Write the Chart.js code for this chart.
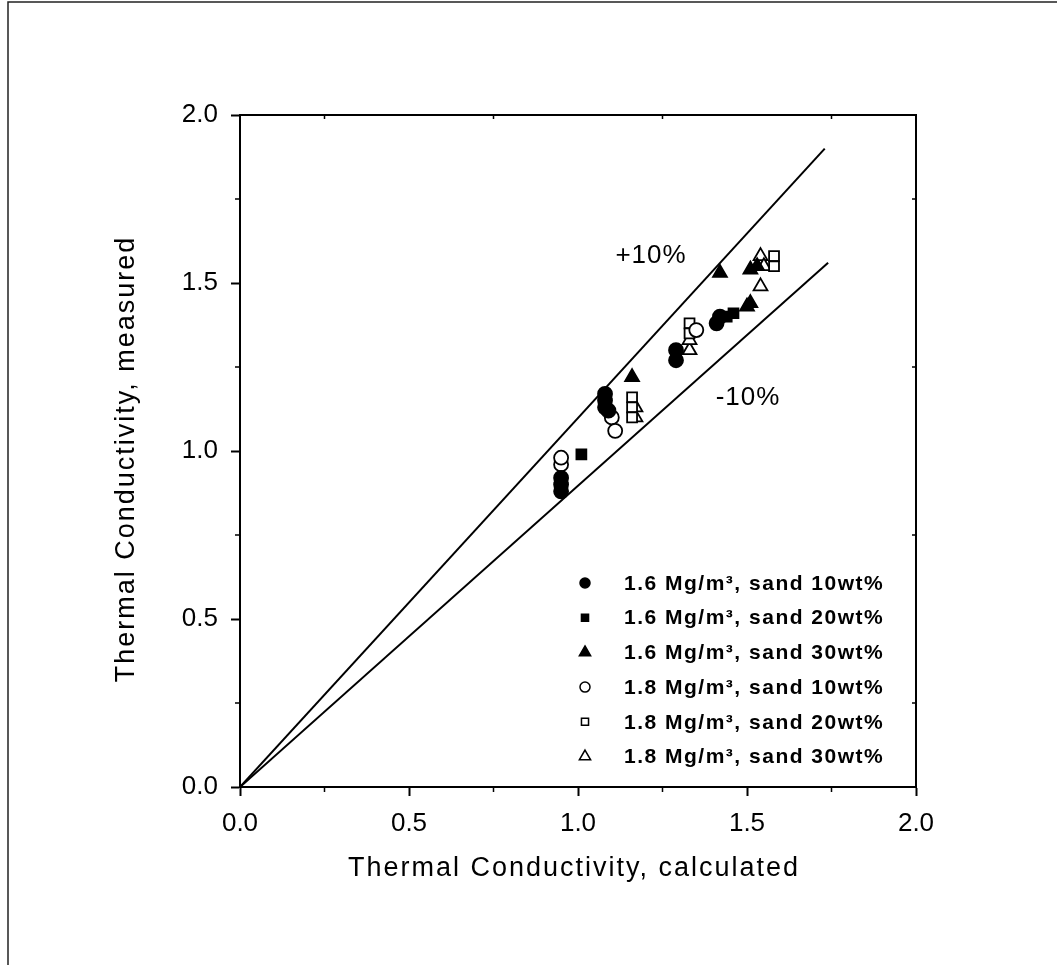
<!DOCTYPE html>
<html>
<head>
<meta charset="utf-8">
<script src="https://cdn.jsdelivr.net/npm/chart.js@4.4.0/dist/chart.umd.min.js"></script>
<style>
  html, body { margin: 0; padding: 0; background: #fff; }
  #wrap { width: 1057px; height: 965px; }
</style>
</head>
<body>
<div id="wrap"><canvas id="chart" width="1057" height="965"></canvas></div>
<script>
// values
const seriesLabels = [
    '1.6 Mg/m\u00B3, sand 10wt%',
    '1.6 Mg/m\u00B3, sand 20wt%',
    '1.6 Mg/m\u00B3, sand 30wt%',
    '1.8 Mg/m\u00B3, sand 10wt%',
    '1.8 Mg/m\u00B3, sand 20wt%',
    '1.8 Mg/m\u00B3, sand 30wt%'
];

const calc16_10 = [0.95, 0.95, 0.95, 1.08, 1.08, 1.08, 1.09, 1.29, 1.29, 1.41, 1.42];
const meas16_10 = [0.88, 0.90, 0.92, 1.17, 1.15, 1.13, 1.12, 1.27, 1.30, 1.38, 1.40];

const calc16_20 = [1.01, 1.44, 1.46];
const meas16_20 = [0.99, 1.40, 1.41];

const calc16_30 = [1.16, 1.42, 1.50, 1.51, 1.51, 1.53];
const meas16_30 = [1.22, 1.53, 1.43, 1.44, 1.54, 1.55];

const calc18_10 = [0.95, 0.95, 1.10, 1.11, 1.35];
const meas18_10 = [0.96, 0.98, 1.10, 1.06, 1.36];

const calc18_20 = [1.16, 1.16, 1.16, 1.33, 1.33, 1.58, 1.58];
const meas18_20 = [1.16, 1.13, 1.10, 1.38, 1.35, 1.58, 1.55];

const calc18_30 = [1.17, 1.17, 1.33, 1.33, 1.54, 1.55, 1.54];
const meas18_30 = [1.13, 1.10, 1.30, 1.33, 1.58, 1.55, 1.49];

// +10% / -10% bounds (end points)
const plusLineX = [0, 1.73];
const plusLineY = [0, 1.90];
const minusLineX = [0, 1.74];
const minusLineY = [0, 1.56];

const xTicks = [0, 0.5, 1.0, 1.5, 2.0];
const yTicks = [0, 0.5, 1.0, 1.5, 2.0];

const xTitle = 'Thermal Conductivity, calculated';
const yTitle = 'Thermal Conductivity, measured';

const FONT = "'Liberation Sans', Arial, sans-serif";

function pts(xs, ys) {
    return xs.map((x, i) => ({ x: x, y: ys[i] }));
}

function scatterSet(label, xs, ys, style, filled, radius) {
    return {
        type: 'scatter',
        label: label,
        data: pts(xs, ys),
        pointStyle: style,
        pointRadius: radius,
        pointHoverRadius: radius,
        pointBorderWidth: 1.8,
        pointBorderColor: '#000',
        pointBackgroundColor: filled ? '#000' : '#fff'
    };
}

function lineSet(label, xs, ys) {
    return {
        type: 'line',
        label: label,
        data: pts(xs, ys),
        borderColor: '#000',
        borderWidth: 2,
        pointRadius: 0,
        fill: false,
        showLine: true
    };
}

const datasets = [
    lineSet('+10%', plusLineX, plusLineY),
    lineSet('-10%', minusLineX, minusLineY),
    scatterSet(seriesLabels[0], calc16_10, meas16_10, 'circle', true, 7),
    scatterSet(seriesLabels[1], calc16_20, meas16_20, 'rect', true, 7),
    scatterSet(seriesLabels[2], calc16_30, meas16_30, 'triangle', true, 8),
    scatterSet(seriesLabels[3], calc18_10, meas18_10, 'circle', false, 7),
    scatterSet(seriesLabels[4], calc18_20, meas18_20, 'rect', false, 7),
    scatterSet(seriesLabels[5], calc18_30, meas18_30, 'triangle', false, 8)
];

// frame, minor ticks, titles, labels, inset legend
const decor = {
    id: 'decor',
    beforeDraw(chart) {
        const ctx = chart.ctx;
        ctx.save();
        ctx.strokeStyle = '#222';
        ctx.lineWidth = 1.5;
        ctx.beginPath();
        ctx.moveTo(8, 965);
        ctx.lineTo(8, 2);
        ctx.lineTo(1057, 2);
        ctx.stroke();
        ctx.restore();
    },
    afterDraw(chart) {
        const ctx = chart.ctx;
        const a = chart.chartArea;
        const xs = chart.scales.x, ys = chart.scales.y;
        ctx.save();
        ctx.strokeStyle = '#000';
        ctx.lineWidth = 2;
        ctx.strokeRect(a.left, a.top, a.right - a.left, a.bottom - a.top);

        // minor ticks
        ctx.lineWidth = 1.5;
        [0.25, 0.75, 1.25, 1.75].forEach(v => {
            const px = xs.getPixelForValue(v);
            ctx.beginPath();
            ctx.moveTo(px, a.bottom);
            ctx.lineTo(px, a.bottom + 5);
            ctx.moveTo(px, a.top);
            ctx.lineTo(px, a.top + 4);
            ctx.stroke();
            const py = ys.getPixelForValue(v);
            ctx.beginPath();
            ctx.moveTo(a.left, py);
            ctx.lineTo(a.left - 5, py);
            ctx.moveTo(a.right, py);
            ctx.lineTo(a.right - 4, py);
            ctx.stroke();
        });

        ctx.fillStyle = '#000';
        ctx.textAlign = 'center';
        ctx.textBaseline = 'middle';

        // axis titles
        ctx.font = '27px ' + FONT;
        ctx.letterSpacing = '2px';
        ctx.fillText(xTitle, 574, 869);
        ctx.save();
        ctx.translate(127, 459);
        ctx.rotate(-Math.PI / 2);
        ctx.fillText(yTitle, 0, 0);
        ctx.restore();

        // bound labels
        ctx.font = '26px ' + FONT;
        ctx.letterSpacing = '1px';
        ctx.fillText('+10%', 651, 256);
        ctx.fillText('-10%', 748, 398);

        // legend
        const lx = 585;
        const tx = 624;
        let ly = 583;
        const step = 34.7;
        ctx.font = 'bold 21px ' + FONT;
        ctx.letterSpacing = '1.5px';
        ctx.textAlign = 'left';
        chart.data.datasets.forEach(ds => {
            if (ds.type !== 'scatter') return;
            ctx.fillStyle = ds.pointBackgroundColor;
            ctx.strokeStyle = '#000';
            ctx.lineWidth = 1.5;
            Chart.helpers.drawPoint(ctx, {
                pointStyle: ds.pointStyle,
                radius: ds.pointStyle === 'triangle' ? 6.5 : 5,
                borderWidth: 1.5,
                rotation: 0
            }, lx, ly);
            ctx.fillStyle = '#000';
            ctx.fillText(ds.label, tx, ly + 1);
            ly += step;
        });
        ctx.letterSpacing = '0px';
        ctx.restore();
    }
};

const ctx = document.getElementById('chart').getContext('2d');
new Chart(ctx, {
    type: 'scatter',
    data: { datasets: datasets },
    options: {
        responsive: false,
        animation: false,
        layout: { padding: { left: 111, top: 115, right: 141, bottom: 97 } },
        plugins: {
            legend: { display: false },
            tooltip: { enabled: false }
        },
        scales: {
            x: {
                type: 'linear',
                min: 0,
                max: 2,
                afterFit: s => { s.height = 81; },
                afterBuildTicks: s => { s.ticks = xTicks.map(v => ({ value: v })); },
                grid: { drawOnChartArea: false, tickLength: 9, tickWidth: 2, tickColor: '#000' },
                border: { color: '#000', width: 2 },
                ticks: {
                    color: '#000',
                    padding: 12,
                    font: { family: FONT, size: 26 },
                    callback: v => v.toFixed(1)
                }
            },
            y: {
                type: 'linear',
                min: 0,
                max: 2,
                afterFit: s => { s.width = 129; },
                afterBuildTicks: s => { s.ticks = yTicks.map(v => ({ value: v })); },
                grid: { drawOnChartArea: false, tickLength: 9, tickWidth: 2, tickColor: '#000' },
                border: { color: '#000', width: 2 },
                ticks: {
                    color: '#000',
                    padding: 13,
                    font: { family: FONT, size: 26 },
                    callback: v => v.toFixed(1)
                }
            }
        }
    },
    plugins: [decor]
});
</script>
</body>
</html>
